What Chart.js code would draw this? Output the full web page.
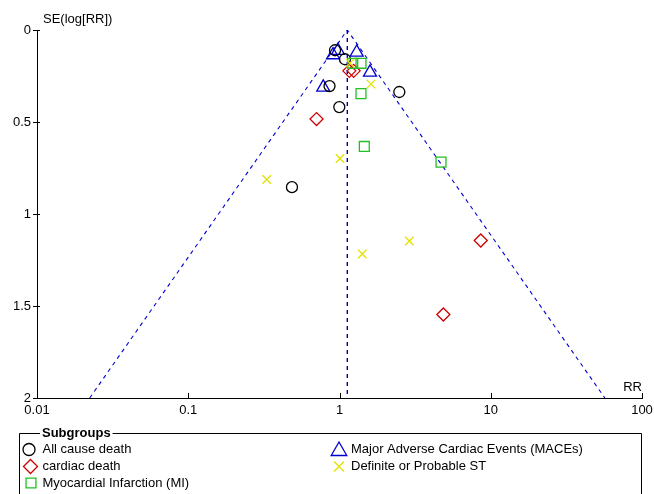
<!DOCTYPE html>
<html>
<head>
<meta charset="utf-8">
<script src="https://cdn.jsdelivr.net/npm/chart.js@4/dist/chart.umd.min.js"></script>
<style>
html,body{margin:0;padding:0;background:#fff;}
#wrap{width:654px;height:494px;position:relative;}
</style>
</head>
<body>
<div id="wrap"><canvas id="c" width="654" height="494"></canvas></div>
<script>
// ---- data ----
const xTickValues = [0.01, 0.1, 1, 10, 100];
const yTickValues = [0, 0.5, 1, 1.5, 2];
const xAxisTitle = 'RR';
const yAxisTitle = 'SE(log[RR])';
const legendTitle = 'Subgroups';

const pooledRR = 1.126;
const funnelRR = [0.0223, 1.126, 56.8];
const funnelSE = [2, 0, 2];

const seriesNames = ['All cause death', 'cardiac death', 'Myocardial Infarction (MI)',
                     'Major Adverse Cardiac Events (MACEs)', 'Definite or Probable ST'];

const allCauseRR = [0.934, 1.087, 0.859, 0.997, 2.486, 0.485];
const allCauseSE = [0.110, 0.159, 0.305, 0.419, 0.337, 0.854];

const cardiacRR = [1.161, 1.240, 0.705, 8.59, 4.86];
const cardiacSE = [0.222, 0.222, 0.484, 1.144, 1.546];

const miRR = [1.223, 1.387, 1.387, 1.459, 4.69];
const miSE = [0.181, 0.181, 0.346, 0.633, 0.718];

const maceRR = [0.977, 0.906, 1.299, 1.591, 0.781];
const maceSE = [0.112, 0.136, 0.122, 0.230, 0.312];

const stRR = [1.173, 1.615, 1.008, 0.330, 2.894, 1.415];
const stSE = [0.180, 0.294, 0.698, 0.8125, 1.147, 1.217];

// ---- styles ----
const styles = [
  {pointStyle:'circle',   radius:5.5, color:'#000000', legendRadius:6},
  {pointStyle:'rectRot',  radius:6.5, color:'#d00000', legendRadius:7},
  {pointStyle:'rect',     radius:7,   color:'#22c022', legendRadius:7},
  {pointStyle:'triangle', radius:7.5, color:'#0000d0', legendRadius:9},
  {pointStyle:'crossRot', radius:6,   color:'#e2e200', legendRadius:7}
];
const seriesRR = [allCauseRR, cardiacRR, miRR, maceRR, stRR];
const seriesSE = [allCauseSE, cardiacSE, miSE, maceSE, stSE];

function pts(xs, ys){ return xs.map((x,i)=>({x:x, y:ys[i]})); }

const FONT = 'Liberation Sans, Arial, sans-serif';

const datasets = [];
datasets.push({
  type:'line', label:'funnel', data: pts(funnelRR, funnelSE),
  borderColor:'#0000d0', borderWidth:1.1, borderDash:[4,4], pointRadius:0,
  showLine:true, fill:false, tension:0, order:10
});
datasets.push({
  type:'line', label:'pooled', data: [{x:pooledRR,y:0},{x:pooledRR,y:2}],
  borderColor:'#0000b0', borderWidth:1.4, borderDash:[4,4], pointRadius:0,
  showLine:true, fill:false, tension:0, order:9
});
const drawOrder = [3,0,1,2,4];
drawOrder.forEach((k, idx)=>{
  const s = styles[k];
  datasets.push({
    type:'scatter', label: seriesNames[k], data: pts(seriesRR[k], seriesSE[k]),
    pointStyle: s.pointStyle, pointRadius: s.radius, pointHoverRadius: s.radius,
    borderColor: s.color, backgroundColor:'rgba(0,0,0,0)', pointBorderWidth:1.3,
    borderWidth:1.3, showLine:false, order: 5-idx
  });
});

function marker(ctx, style, r, x, y){
  ctx.save();
  ctx.strokeStyle = style.color;
  ctx.lineWidth = 1.3;
  ctx.beginPath();
  if (style.pointStyle === 'circle') {
    ctx.arc(x, y, r, 0, Math.PI*2);
  } else if (style.pointStyle === 'rectRot') {
    ctx.moveTo(x-r, y); ctx.lineTo(x, y-r); ctx.lineTo(x+r, y); ctx.lineTo(x, y+r); ctx.closePath();
  } else if (style.pointStyle === 'rect') {
    const h = r*Math.SQRT1_2;
    ctx.rect(x-h, y-h, 2*h, 2*h);
  } else if (style.pointStyle === 'triangle') {
    const w = r*Math.sin(2*Math.PI/3);
    ctx.moveTo(x, y-r); ctx.lineTo(x+w, y+r/2); ctx.lineTo(x-w, y+r/2); ctx.closePath();
  } else {
    const h = r*Math.SQRT1_2;
    ctx.moveTo(x-h, y-h); ctx.lineTo(x+h, y+h);
    ctx.moveTo(x+h, y-h); ctx.lineTo(x-h, y+h);
  }
  ctx.stroke();
  ctx.restore();
}

const decor = {
  id:'decor',
  afterDraw(chart){
    const ctx = chart.ctx;
    const xs = chart.scales.x, ys = chart.scales.y;
    const ca = chart.chartArea;
    ctx.save();
    ctx.strokeStyle = '#000'; ctx.lineWidth = 1;
    yTickValues.forEach(v=>{
      const y = Math.round(ys.getPixelForValue(v)) + 0.5;
      ctx.beginPath(); ctx.moveTo(ca.left-4, y); ctx.lineTo(ca.left+3, y); ctx.stroke();
    });
    xTickValues.forEach(v=>{
      const x = Math.round(xs.getPixelForValue(v)) + 0.5;
      ctx.beginPath(); ctx.moveTo(x, ca.bottom); ctx.lineTo(x, ca.bottom-5); ctx.stroke();
    });
    ctx.fillStyle = '#000';
    ctx.font = '13px ' + FONT;
    ctx.textBaseline = 'middle';
    ctx.textAlign = 'left';
    ctx.fillText(yAxisTitle, ca.left+6, ca.top-11);
    ctx.textAlign = 'right';
    ctx.fillText(xAxisTitle, ca.right, ca.bottom-11);

    // legend box
    const bx = 19.5, by = 433.5, bR = 641.5, bB = 520;
    ctx.font = 'bold 13px ' + FONT;
    ctx.textAlign = 'left';
    const tw = ctx.measureText(legendTitle).width;
    const tx = 42;
    ctx.strokeStyle = '#000';
    ctx.beginPath();
    ctx.moveTo(tx-2, by); ctx.lineTo(bx, by); ctx.lineTo(bx, bB);
    ctx.moveTo(tx+tw+2, by); ctx.lineTo(bR, by); ctx.lineTo(bR, bB);
    ctx.stroke();
    ctx.fillText(legendTitle, tx, by);

    ctx.font = '13px ' + FONT;
    const slots = [
      {mx:29, tx:42.5, y:449.5},
      {mx:30.5, tx:42.5, y:466.5},
      {mx:31, tx:42.5, y:483},
      {mx:339, tx:351, y:449.5},
      {mx:339, tx:351, y:466.5}
    ];
    slots.forEach((sl, k)=>{
      const s = styles[k];
      marker(ctx, s, s.legendRadius, sl.mx, s.pointStyle==='triangle' ? sl.y+1.5 : sl.y);
      ctx.fillStyle = '#000';
      ctx.fillText(seriesNames[k], sl.tx, sl.y);
    });
    ctx.restore();
  }
};

new Chart(document.getElementById('c'), {
  type:'scatter',
  data:{datasets},
  plugins:[decor],
  options:{
    responsive:false, animation:false,
    layout:{padding:{left:0, top:30, right:12, bottom:72}},
    plugins:{legend:{display:false}, tooltip:{enabled:false}},
    scales:{
      x:{
        type:'logarithmic', min:0.01, max:100,
        grid:{display:false, drawTicks:false}, border:{display:true, color:'#000', width:1},
        afterBuildTicks(sc){ sc.ticks = xTickValues.map(v=>({value:v})); },
        afterFit(sc){ sc.height = 24; sc.paddingLeft = 0; sc.paddingRight = 0; },
        ticks:{color:'#000', font:{size:13, family:FONT}, padding:5, maxRotation:0, autoSkip:false,
               callback:(v)=>String(v)}
      },
      y:{
        type:'linear', reverse:true, min:0, max:2,
        grid:{display:false, drawTicks:false}, border:{display:true, color:'#000', width:1},
        afterBuildTicks(sc){ sc.ticks = yTickValues.map(v=>({value:v})); },
        afterFit(sc){ sc.width = 37; },
        ticks:{color:'#000', font:{size:13, family:FONT}, padding:6, autoSkip:false,
               callback:(v)=>String(v)}
      }
    }
  }
});
</script>
</body>
</html>
